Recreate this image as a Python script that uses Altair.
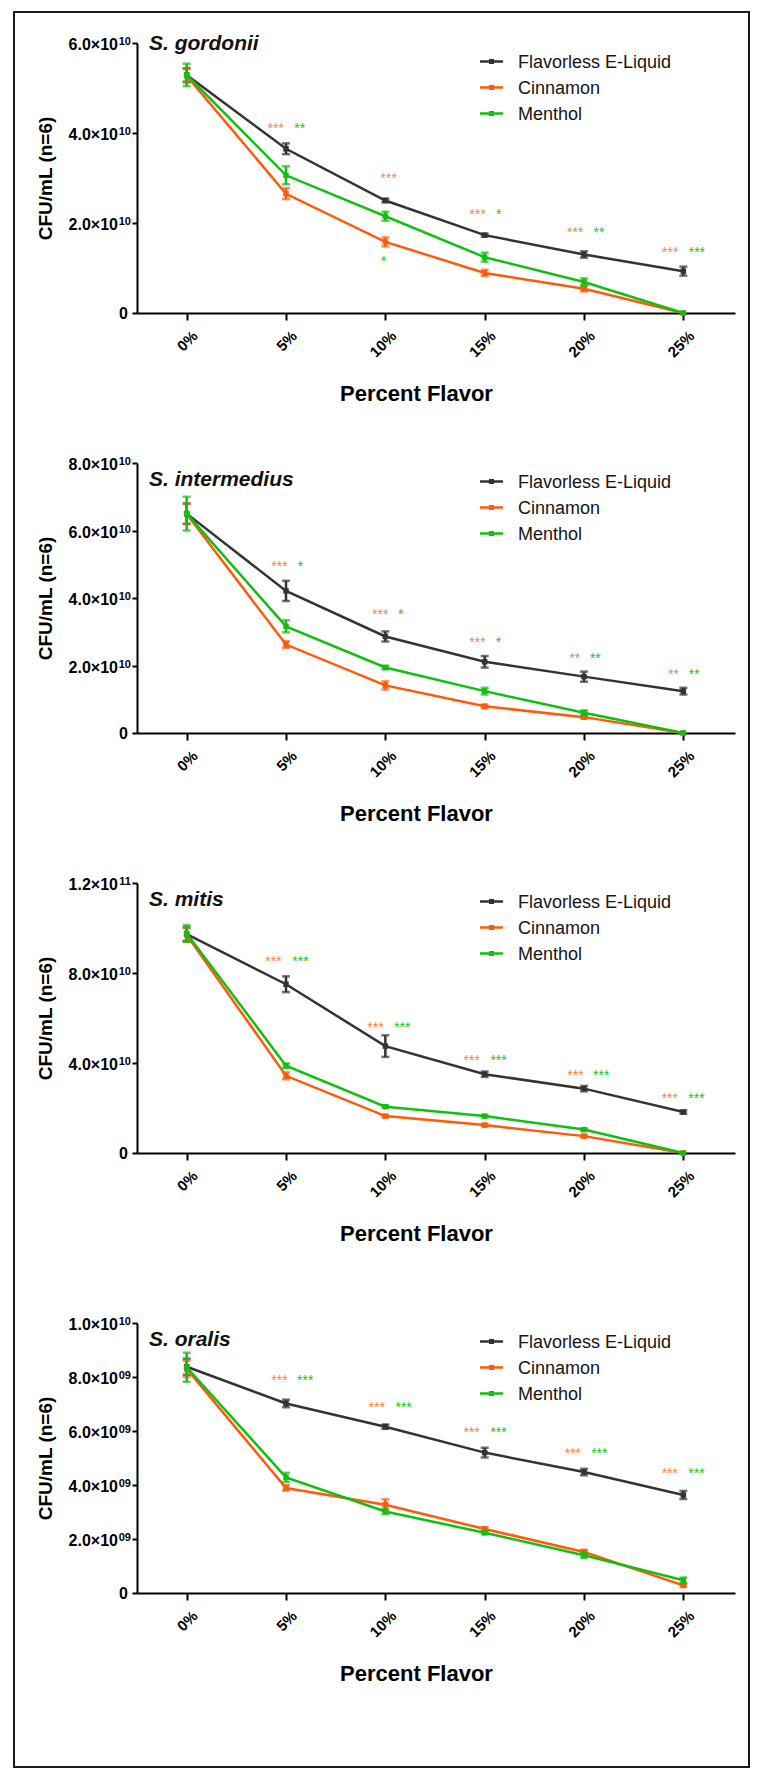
import altair as alt
import pandas as pd

FONT = "Liberation Sans"

PCT = [0, 5, 10, 15, 20, 25]
SERIES = ["Flavorless E-Liquid", "Cinnamon", "Menthol"]
LINE_COLORS = ["#333333", "#FF5A0A", "#11BF11"]
STAR_ORANGE = "#FF7F3A"
STAR_GREEN = "#16C416"
SPECIES = ["S. gordonii", "S. intermedius", "S. mitis", "S. oralis"]

# ---------------- S. gordonii ----------------
gord_flav = [5.29e10, 3.65e10, 2.50e10, 1.73e10, 1.30e10, 0.93e10]
gord_flav_err = [0.15e10, 0.12e10, 0.04e10, 0.03e10, 0.07e10, 0.10e10]
gord_cinn = [5.27e10, 2.65e10, 1.58e10, 0.89e10, 0.54e10, 0.0]
gord_cinn_err = [0.15e10, 0.12e10, 0.10e10, 0.07e10, 0.06e10, 0.0]
gord_ment = [5.29e10, 3.06e10, 2.15e10, 1.24e10, 0.69e10, 0.0]
gord_ment_err = [0.25e10, 0.20e10, 0.10e10, 0.10e10, 0.08e10, 0.0]
gord_ticks = [0, 2e10, 4e10, 6e10]
gord_tick_mant = ["0", "2.0×10", "4.0×10", "6.0×10"]
gord_tick_exp = ["", "10", "10", "10"]
gord_star_o_x = [4.48, 10.17, 14.65, 19.56, 24.34]
gord_star_o_y = [4.17e10, 3.06e10, 2.27e10, 1.86e10, 1.43e10]
gord_star_o_t = ["***", "***", "***", "***", "***"]
gord_star_g_x = [5.69, 9.92, 15.71, 20.75, 25.68]
gord_star_g_y = [4.17e10, 1.23e10, 2.27e10, 1.86e10, 1.43e10]
gord_star_g_t = ["**", "*", "*", "**", "***"]

# ---------------- S. intermedius ----------------
inter_flav = [6.50e10, 4.21e10, 2.86e10, 2.11e10, 1.67e10, 1.24e10]
inter_flav_err = [0.30e10, 0.30e10, 0.15e10, 0.17e10, 0.15e10, 0.10e10]
inter_cinn = [6.49e10, 2.62e10, 1.41e10, 0.79e10, 0.47e10, 0.0]
inter_cinn_err = [0.30e10, 0.10e10, 0.12e10, 0.05e10, 0.04e10, 0.0]
inter_ment = [6.50e10, 3.16e10, 1.94e10, 1.24e10, 0.60e10, 0.0]
inter_ment_err = [0.50e10, 0.18e10, 0.05e10, 0.10e10, 0.07e10, 0.0]
inter_ticks = [0, 2e10, 4e10, 6e10, 8e10]
inter_tick_mant = ["0", "2.0×10", "4.0×10", "6.0×10", "8.0×10"]
inter_tick_exp = ["", "10", "10", "10", "10"]
inter_star_o_x = [4.67, 9.74, 14.64, 19.54, 24.51]
inter_star_o_y = [5.05e10, 3.62e10, 2.80e10, 2.30e10, 1.83e10]
inter_star_o_t = ["***", "***", "***", "**", "**"]
inter_star_g_x = [5.73, 10.78, 15.70, 20.57, 25.55]
inter_star_g_y = [5.05e10, 3.62e10, 2.80e10, 2.30e10, 1.83e10]
inter_star_g_t = ["*", "*", "*", "**", "**"]

# ---------------- S. mitis ----------------
mitis_flav = [9.73e10, 7.50e10, 4.75e10, 3.50e10, 2.86e10, 1.82e10]
mitis_flav_err = [0.30e10, 0.35e10, 0.48e10, 0.12e10, 0.12e10, 0.07e10]
mitis_cinn = [9.69e10, 3.43e10, 1.64e10, 1.24e10, 0.75e10, 0.0]
mitis_cinn_err = [0.30e10, 0.15e10, 0.05e10, 0.05e10, 0.05e10, 0.0]
mitis_ment = [9.76e10, 3.88e10, 2.06e10, 1.64e10, 1.04e10, 0.0]
mitis_ment_err = [0.37e10, 0.10e10, 0.05e10, 0.05e10, 0.05e10, 0.0]
mitis_ticks = [0, 4e10, 8e10, 1.2e11]
mitis_tick_mant = ["0", "4.0×10", "8.0×10", "1.2×10"]
mitis_tick_exp = ["", "10", "10", "11"]
mitis_star_o_x = [4.37, 9.50, 14.35, 19.57, 24.32]
mitis_star_o_y = [8.65e10, 5.74e10, 4.25e10, 3.61e10, 2.59e10]
mitis_star_o_t = ["***", "***", "***", "***", "***"]
mitis_star_g_x = [5.73, 10.85, 15.70, 20.87, 25.66]
mitis_star_g_y = [8.65e10, 5.74e10, 4.25e10, 3.61e10, 2.59e10]
mitis_star_g_t = ["***", "***", "***", "***", "***"]

# ---------------- S. oralis ----------------
oralis_flav = [8.38e9, 7.02e9, 6.16e9, 5.20e9, 4.48e9, 3.63e9]
oralis_flav_err = [0.30e9, 0.14e9, 0.08e9, 0.18e9, 0.12e9, 0.15e9]
oralis_cinn = [8.30e9, 3.89e9, 3.27e9, 2.37e9, 1.52e9, 0.28e9]
oralis_cinn_err = [0.30e9, 0.10e9, 0.20e9, 0.07e9, 0.08e9, 0.05e9]
oralis_ment = [8.36e9, 4.28e9, 3.02e9, 2.23e9, 1.40e9, 0.47e9]
oralis_ment_err = [0.54e9, 0.17e9, 0.10e9, 0.05e9, 0.10e9, 0.10e9]
oralis_ticks = [0, 2e9, 4e9, 6e9, 8e9, 1e10]
oralis_tick_mant = ["0", "2.0×10", "4.0×10", "6.0×10", "8.0×10", "1.0×10"]
oralis_tick_exp = ["", "09", "09", "09", "09", "10"]
oralis_star_o_x = [4.67, 9.57, 14.35, 19.44, 24.32]
oralis_star_o_y = [8.00e9, 7.01e9, 6.09e9, 5.29e9, 4.57e9]
oralis_star_o_t = ["***", "***", "***", "***", "***"]
oralis_star_g_x = [5.97, 10.92, 15.70, 20.77, 25.66]
oralis_star_g_y = [8.00e9, 7.01e9, 6.09e9, 5.29e9, 4.57e9]
oralis_star_g_t = ["***", "***", "***", "***", "***"]

PANELS = [
    dict(name=SPECIES[0], vals=[gord_flav, gord_cinn, gord_ment],
         errs=[gord_flav_err, gord_cinn_err, gord_ment_err],
         ticks=gord_ticks, mant=gord_tick_mant, exp=gord_tick_exp,
         so=(gord_star_o_x, gord_star_o_y, gord_star_o_t),
         sg=(gord_star_g_x, gord_star_g_y, gord_star_g_t),
         top=0, title_dy=7),
    dict(name=SPECIES[1], vals=[inter_flav, inter_cinn, inter_ment],
         errs=[inter_flav_err, inter_cinn_err, inter_ment_err],
         ticks=inter_ticks, mant=inter_tick_mant, exp=inter_tick_exp,
         so=(inter_star_o_x, inter_star_o_y, inter_star_o_t),
         sg=(inter_star_g_x, inter_star_g_y, inter_star_g_t),
         top=0, title_dy=23),
    dict(name=SPECIES[2], vals=[mitis_flav, mitis_cinn, mitis_ment],
         errs=[mitis_flav_err, mitis_cinn_err, mitis_ment_err],
         ticks=mitis_ticks, mant=mitis_tick_mant, exp=mitis_tick_exp,
         so=(mitis_star_o_x, mitis_star_o_y, mitis_star_o_t),
         sg=(mitis_star_g_x, mitis_star_g_y, mitis_star_g_t),
         top=0, title_dy=23),
    dict(name=SPECIES[3], vals=[oralis_flav, oralis_cinn, oralis_ment],
         errs=[oralis_flav_err, oralis_cinn_err, oralis_ment_err],
         ticks=oralis_ticks, mant=oralis_tick_mant, exp=oralis_tick_exp,
         so=(oralis_star_o_x, oralis_star_o_y, oralis_star_o_t),
         sg=(oralis_star_g_x, oralis_star_g_y, oralis_star_g_t),
         top=20, title_dy=23),
]

W = 598
PH = 270
ONE = pd.DataFrame({"k": [0]})


def make_panel(i, p):
    top = p["top"]
    H = PH + top
    xscale = alt.Scale(domain=[-2.5, 27.6], nice=False, zero=False)
    yscale = alt.Scale(domain=[0, p["ticks"][-1]], range=[H, top], nice=False, zero=True)
    xaxis = alt.Axis(values=PCT, labelExpr="datum.value + '%'", labelAngle=-45,
                     labelAlign="right", labelBaseline="top", labelFontSize=15,
                     labelPadding=8, labelOffset=3, tickSize=7,
                     title="Percent Flavor", titleFontSize=22, titleX=279, titleY=80,
                     titleBaseline="middle", titleAlign="center")
    yaxis = alt.Axis(values=p["ticks"], labels=False, tickSize=5,
                     title="CFU/mL (n=6)", titleFontSize=19, titleAngle=270,
                     titleX=-92, titleY=top + PH / 2, titleAlign="center",
                     titleBaseline="middle")
    X = alt.X("pct:Q", scale=xscale, axis=xaxis)
    layers = []
    for s, name in enumerate(SERIES):
        df = pd.DataFrame({"pct": PCT, "val": p["vals"][s], "err": p["errs"][s]})
        df["lo"] = df["val"] - df["err"]
        df["hi"] = df["val"] + df["err"]
        col = LINE_COLORS[s]
        base = alt.Chart(df)
        layers.append(base.mark_line(color=col, strokeWidth=2.5).encode(
            x=X, y=alt.Y("val:Q", scale=yscale, axis=yaxis)))
        eb = base.transform_filter("datum.err > 0")
        layers.append(eb.mark_rule(color=col, strokeWidth=2.5).encode(
            x=X, y=alt.Y("lo:Q", scale=yscale, axis=yaxis), y2="hi:Q"))
        layers.append(eb.mark_tick(color=col, orient="horizontal", size=8, thickness=2.5).encode(
            x=X, y=alt.Y("lo:Q", scale=yscale, axis=yaxis)))
        layers.append(eb.mark_tick(color=col, orient="horizontal", size=8, thickness=2.5).encode(
            x=X, y=alt.Y("hi:Q", scale=yscale, axis=yaxis)))
        layers.append(base.mark_square(color=col, size=30, opacity=1).encode(
            x=X, y=alt.Y("val:Q", scale=yscale, axis=yaxis)))
    # y tick labels with raised exponents
    tdf = pd.DataFrame({"val": p["ticks"], "mant": p["mant"], "exp": p["exp"]})
    tb = alt.Chart(tdf)
    Yt = alt.Y("val:Q", scale=yscale, axis=yaxis)
    layers.append(tb.transform_filter("datum.exp == ''").mark_text(
        font=FONT, fontSize=16, fontWeight="bold", align="right", baseline="middle",
        dy=1, color="black").encode(x=alt.value(-9), y=Yt, text="mant:N"))
    layers.append(tb.transform_filter("datum.exp != ''").mark_text(
        font=FONT, fontSize=16, fontWeight="bold", align="right", baseline="middle",
        dy=2, color="black").encode(x=alt.value(-19), y=Yt, text="mant:N"))
    layers.append(tb.transform_filter("datum.exp != ''").mark_text(
        font=FONT, fontSize=11, fontWeight="bold", align="right", baseline="middle",
        dy=-1, color="black").encode(x=alt.value(-6), y=Yt, text="exp:N"))
    # significance stars
    for (sx, sy, st), c in ((p["so"], STAR_ORANGE), (p["sg"], STAR_GREEN)):
        sdf = pd.DataFrame({"pct": sx, "val": sy, "t": st})
        layers.append(alt.Chart(sdf).mark_text(color=c, fontSize=14, font=FONT,
                                               baseline="alphabetic", align="center", dy=8).encode(
            x=X, y=alt.Y("val:Q", scale=yscale, axis=yaxis), text="t:N"))
    # species label
    layers.append(alt.Chart(ONE).mark_text(font=FONT, fontSize=21, fontWeight="bold",
                                           fontStyle="italic", align="left",
                                           baseline="alphabetic", color="#111111").encode(
        x=alt.value(12), y=alt.value(top + p["title_dy"]), text=alt.value(p["name"])))
    # legend
    rows = [18.5, 44.5, 70.5]
    for s, name in enumerate(SERIES):
        ry = top + rows[s]
        col = LINE_COLORS[s]
        layers.append(alt.Chart(ONE).mark_rule(color=col, strokeWidth=2.5).encode(
            x=alt.value(343), x2=alt.value(366), y=alt.value(ry)))
        layers.append(alt.Chart(ONE).mark_square(color=col, size=25, opacity=1).encode(
            x=alt.value(354.5), y=alt.value(ry)))
        layers.append(alt.Chart(ONE).mark_text(font=FONT, fontSize=18, align="left",
                                               baseline="middle", color="#151515").encode(
            x=alt.value(381), y=alt.value(ry + 1), text=alt.value(name)))
    if i == 0:
        layers.append(alt.Chart(ONE).mark_rect(filled=False, stroke="#1a1a1a", strokeWidth=2).encode(
            x=alt.value(-123), x2=alt.value(612), y=alt.value(-31), y2=alt.value(1724)))
    return alt.layer(*layers).properties(width=W, height=H)


panels = [make_panel(i, p) for i, p in enumerate(PANELS)]

chart = alt.vconcat(*panels, spacing=150, bounds="flush").properties(
    padding={"left": 5, "top": 3, "right": 5, "bottom": 5}
).configure_view(stroke=None).configure_axis(
    domainColor="black", domainWidth=2, tickColor="black", tickWidth=2,
    labelFont=FONT, labelFontWeight="bold", labelColor="black",
    titleFont=FONT, titleFontWeight="bold", titleColor="black", grid=False
)

chart.save("out.html", embed_options={"renderer": "svg", "actions": False})
